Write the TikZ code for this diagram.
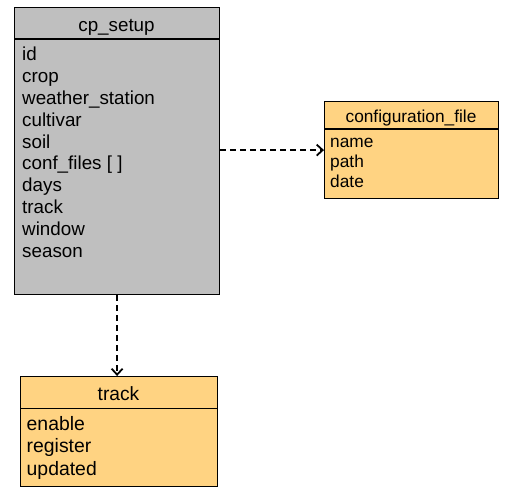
\documentclass[tikz,border=0pt]{standalone}
\usepackage{fontspec}
\setmainfont{Liberation Sans}
\usetikzlibrary{arrows.meta}
\definecolor{boxgray}{HTML}{BFBFBF}
\definecolor{boxorange}{HTML}{FFD382}
\tikzset{
  umlbox/.style={draw=black, line width=1.2pt, rectangle, inner sep=0pt, anchor=north west},
  sepline/.style={draw=black, line width=1.2pt},
  cptext/.style={anchor=base west, inner sep=0pt, font=\fontsize{18.8}{22}\selectfont},
  cptitle/.style={anchor=base, inner sep=0pt, font=\fontsize{18.8}{22}\selectfont},
  cftext/.style={anchor=base west, inner sep=0pt, font=\fontsize{17.3}{20}\selectfont},
  cftitle/.style={anchor=base, inner sep=0pt, font=\fontsize{17.3}{20}\selectfont},
  trtext/.style={anchor=base west, inner sep=0pt, font=\fontsize{19.4}{22}\selectfont},
  trtitle/.style={anchor=base, inner sep=0pt, font=\fontsize{19.2}{22}\selectfont},
  depend/.style={draw=black, line width=1.3pt, dash pattern=on 6pt off 4pt, -{Straight Barb[length=6pt,width=11pt,line width=1.8pt]}}
}
\begin{document}
\begin{tikzpicture}[x=1pt,y=-1pt]
\useasboundingbox (0,0) rectangle (514,497);
% cp_setup
\node[umlbox, fill=boxgray, minimum width=205pt, minimum height=287pt] (cp) at (14,7) {};
\coordinate (cpl) at (14,39);
\coordinate (cpr) at (219,39);
\draw[sepline] (cpl) -- (cpr);
\node[cptitle] (cpt) at (116.5,31.5) {cp\_setup};
\node[cptext] (a1) at (22,61) {id};
\node[cptext] (a2) at (22,82.8) {crop};
\node[cptext] (a3) at (22,104.6) {weather\_station};
\node[cptext] (a4) at (22,126.4) {cultivar};
\node[cptext] (a5) at (22,148.2) {soil};
\node[cptext] (a6) at (22,170) {conf\_files [ ]};
\node[cptext] (a7) at (22,191.8) {days};
\node[cptext] (a8) at (22,213.6) {track};
\node[cptext] (a9) at (22,235.4) {window};
\node[cptext] (a10) at (22,257.2) {season};
% configuration_file
\node[umlbox, fill=boxorange, minimum width=174pt, minimum height=97pt] (cf) at (324,101) {};
\coordinate (cfl) at (324,129);
\coordinate (cfr) at (498,129);
\draw[sepline] (cfl) -- (cfr);
\node[cftitle] (cft) at (411,122.3) {configuration\_file};
\node[cftext] (b1) at (330,147.3) {name};
\node[cftext] (b2) at (330,167.5) {path};
\node[cftext] (b3) at (330,187.5) {date};
% track
\node[umlbox, fill=boxorange, minimum width=197pt, minimum height=110pt] (tr) at (20,376) {};
\coordinate (trl) at (20,408.5);
\coordinate (trr) at (217,408.5);
\draw[sepline] (trl) -- (trr);
\node[trtitle] (trt) at (118.5,400) {track};
\node[trtext] (c1) at (26.5,430) {enable};
\node[trtext] (c2) at (26.5,452.5) {register};
\node[trtext] (c3) at (26.5,475) {updated};
% connectors
\draw[depend] (cp.east |- cf.west) -- (cf.west);
\draw[depend] (cp.south) -- (cp.south |- tr.north);
\end{tikzpicture}
\end{document}
